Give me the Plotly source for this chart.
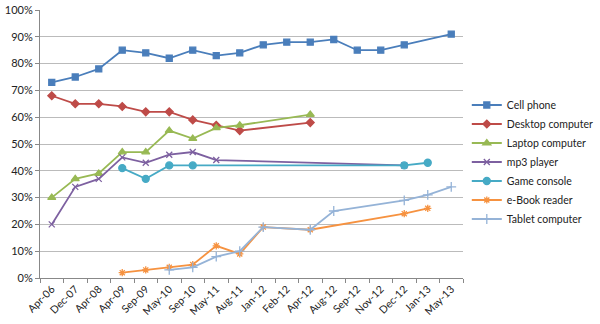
import plotly.graph_objects as go

categories = ["Apr-06", "Dec-07", "Apr-08", "Apr-09", "Sep-09", "May-10", "Sep-10", "May-11",
              "Aug-11", "Jan-12", "Feb-12", "Apr-12", "Aug-12", "Sep-12", "Nov-12", "Dec-12",
              "Jan-13", "May-13"]
N = None
cell_phone = [73, 75, 78, 85, 84, 82, 85, 83, 84, 87, 88, 88, 89, 85, 85, 87, N, 91]
desktop = [68, 65, 65, 64, 62, 62, 59, 57, 55, N, N, 58, N, N, N, N, N, N]
laptop = [30, 37, 39, 47, 47, 55, 52, 56, 57, N, N, 61, N, N, N, N, N, N]
mp3 = [20, 34, 37, 45, 43, 46, 47, 44, N, N, N, N, N, N, N, 42, N, N]
game = [N, N, N, 41, 37, 42, 42, N, N, N, N, N, N, N, N, 42, 43, N]
ebook = [N, N, N, 2, 3, 4, 5, 12, 9, 19, N, 18, N, N, N, 24, 26, N]
tablet = [N, N, N, N, N, 3, 4, 8, 10, 19, N, 18, 25, N, N, 29, 31, 34]

series = [
    ("Cell phone", cell_phone, "#4A7EBB", "square", 6),
    ("Desktop computer", desktop, "#BE4B48", "diamond", 6),
    ("Laptop computer", laptop, "#98B954", "triangle-up", 7),
    ("mp3 player", mp3, "#7D60A0", "x-thin-open", 6),
    ("Game console", game, "#46AAC5", "circle", 7),
    ("e-Book reader", ebook, "#F69240", "asterisk-open", 6),
    ("Tablet computer", tablet, "#95B3D7", "cross-thin-open", 7),
]

fig = go.Figure()
for name, vals, color, sym, size in series:
    fig.add_trace(go.Scatter(
        x=categories, y=[v / 100 if v is not None else None for v in vals],
        name=name, mode="lines+markers", connectgaps=True,
        line=dict(color=color, width=1.8),
        marker=dict(symbol=sym, size=size, color=color,
                    line=dict(color=color, width=1.3)),
    ))

fig.update_layout(
    width=600, height=324,
    margin=dict(l=40, r=137, t=10, b=46, autoexpand=False),
    paper_bgcolor="white", plot_bgcolor="white",
    font=dict(family="Lato, Open Sans, sans-serif", size=11, color="#222"),
    showlegend=True,
    legend=dict(xref="container", yref="container", x=0.778, y=0.50,
                xanchor="left", yanchor="middle",
                font=dict(size=10.5), tracegroupgap=0, itemwidth=30,
                bgcolor="rgba(0,0,0,0)"),
)
fig.update_xaxes(
    type="category", categoryorder="array", categoryarray=categories,
    range=[-0.5, len(categories) - 0.5], automargin=False,
    tickangle=-45, tickson="boundaries", ticks="outside", ticklen=4,
    tickcolor="#888", showline=True, linecolor="#888", linewidth=1,
    showgrid=False, tickfont=dict(size=10.5),
)
fig.update_yaxes(
    range=[0, 1.0], dtick=0.1, tickformat=".0%", automargin=False,
    showgrid=True, gridcolor="#BBBBBB", gridwidth=1,
    showline=True, linecolor="#888", linewidth=1,
    ticks="outside", ticklen=4, tickcolor="#888",
    zeroline=False, tickfont=dict(size=11),
)

fig.write_html("out.html")
